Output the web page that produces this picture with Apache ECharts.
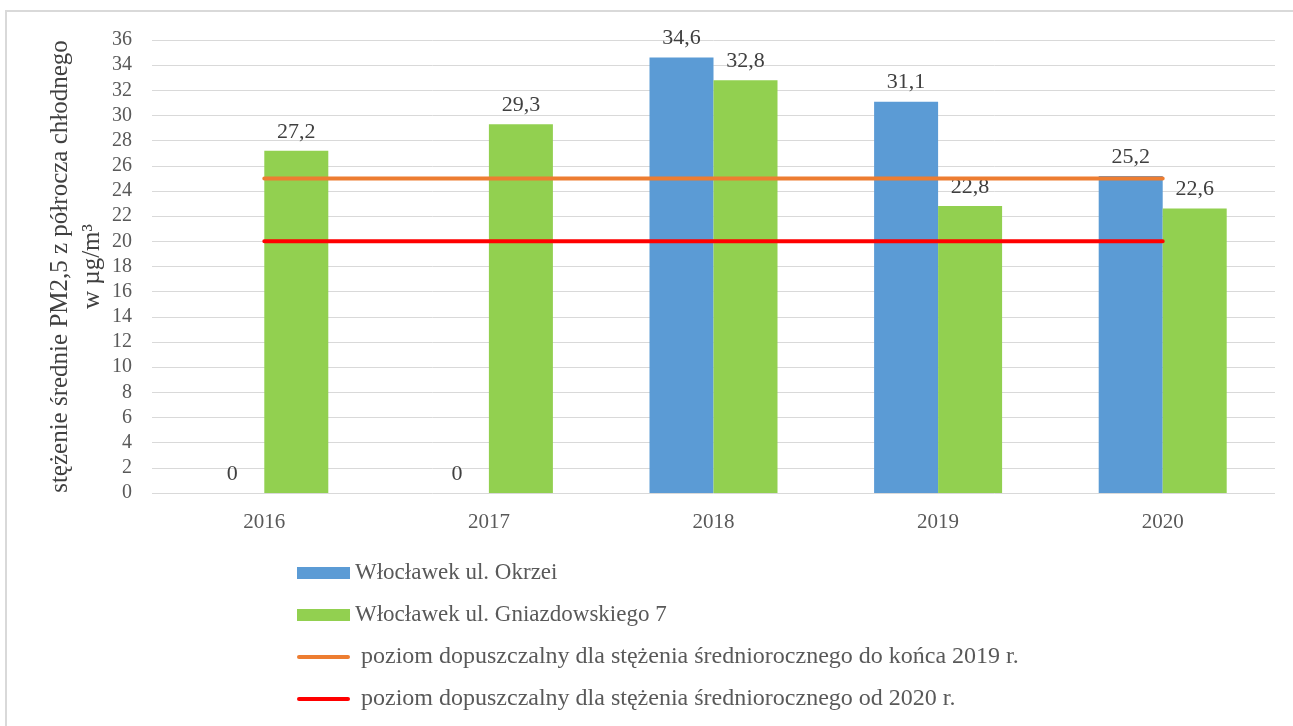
<!DOCTYPE html>
<html>
<head>
<meta charset="utf-8">
<script src="https://cdn.jsdelivr.net/npm/echarts@6/dist/echarts.min.js"></script>
<style>
  html, body { margin: 0; padding: 0; background: #fff; }
  #chart { width: 1293px; height: 726px; }
</style>
</head>
<body>
<div id="chart"></div>
<script>
const years = ["2016", "2017", "2018", "2019", "2020"];
const okrzei = [0, 0, 34.6, 31.1, 25.2];
const gniazdowskiego = [27.2, 29.3, 32.8, 22.8, 22.6];
const limit2019 = [25, 25, 25, 25, 25];
const limit2020 = [20, 20, 20, 20, 20];

const seriesNames = [
  "Włocławek ul. Okrzei",
  "Włocławek ul. Gniazdowskiego 7",
  "poziom dopuszczalny dla stężenia średniorocznego do końca 2019 r.",
  "poziom dopuszczalny dla stężenia średniorocznego od 2020 r."
];

const font = "'Liberation Serif', 'Times New Roman', serif";
const chart = echarts.init(document.getElementById("chart"));

const barLabel = {
  show: true,
  position: "top",
  distance: 8,
  fontFamily: font,
  fontSize: 22,
  color: "#404040",
  formatter: (p) => String(p.value).replace(".", ",")
};

// thin rounded bar used as legend icon for the limit lines
const lineIcon = "path://M2,0 L51,0 A2,2 0 0 1 51,4 L2,4 A2,2 0 0 1 2,0 Z";
const lineLegendText = { fontFamily: font, fontSize: 24, color: "#595959", lineHeight: 24 };

const option = {
  animation: false,
  textStyle: { fontFamily: font },
  graphic: [
    {
      type: "rect",
      shape: { x: 6, y: 11, width: 1400, height: 800 },
      style: { fill: "none", stroke: "#d9d9d9", lineWidth: 2 }
    }
  ],
  grid: { left: 152, right: 18, top: 40, bottom: 233 },
  legend: {
    orient: "vertical",
    left: 292,
    top: 556,
    itemWidth: 53,
    itemHeight: 12,
    itemGap: 18,
    symbolKeepAspect: true,
    textStyle: { fontFamily: font, fontSize: 23, color: "#595959", lineHeight: 24 },
    formatter: (name) => (name.startsWith("poziom") ? " " + name : name),
    data: [
      { name: seriesNames[0], icon: "rect" },
      { name: seriesNames[1], icon: "rect" },
      { name: seriesNames[2], icon: lineIcon, textStyle: lineLegendText },
      { name: seriesNames[3], icon: lineIcon, textStyle: lineLegendText }
    ]
  },
  xAxis: {
    type: "category",
    data: years,
    axisLine: { show: false },
    axisTick: { show: false },
    axisLabel: { fontFamily: font, fontSize: 21, color: "#595959", margin: 19 }
  },
  yAxis: {
    type: "value",
    min: 0,
    max: 36,
    interval: 2,
    name: "stężenie średnie PM2,5 z półrocza chłodnego\nw µg/m³",
    nameLocation: "middle",
    nameGap: 44,
    nameMoveOverlap: false,
    nameTextStyle: { fontFamily: font, fontSize: 25, color: "#404040", lineHeight: 32 },
    axisLine: { show: false },
    axisTick: { show: false },
    axisLabel: { fontFamily: font, fontSize: 20, color: "#595959", margin: 20 },
    splitLine: { lineStyle: { color: "#d9d9d9", width: 1 } }
  },
  series: [
    {
      name: seriesNames[0],
      type: "bar",
      data: okrzei,
      barWidth: 64,
      barGap: "0%",
      itemStyle: { color: "#5b9bd5" },
      label: barLabel
    },
    {
      name: seriesNames[1],
      type: "bar",
      data: gniazdowskiego,
      barWidth: 64,
      barGap: "0%",
      itemStyle: { color: "#92d050" },
      label: barLabel
    },
    {
      name: seriesNames[2],
      type: "line",
      data: limit2019,
      symbol: "none",
      lineStyle: { color: "#ed7d31", width: 4, cap: "round" },
      itemStyle: { color: "#ed7d31" }
    },
    {
      name: seriesNames[3],
      type: "line",
      data: limit2020,
      symbol: "none",
      lineStyle: { color: "#ff0000", width: 4, cap: "round" },
      itemStyle: { color: "#ff0000" }
    }
  ]
};

chart.setOption(option);
</script>
</body>
</html>
